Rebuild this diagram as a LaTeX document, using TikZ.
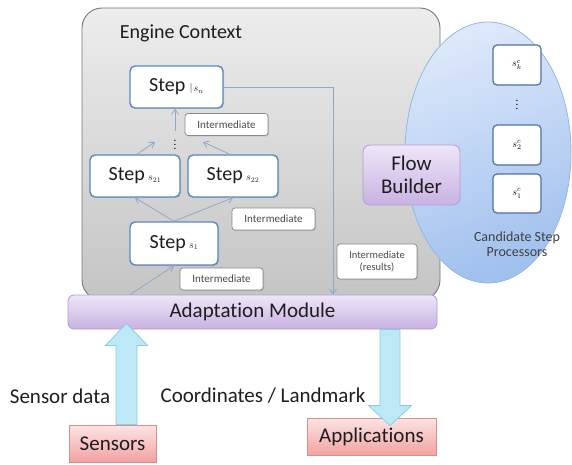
\documentclass[tikz,border=0pt]{standalone}
\usepackage{fontspec}
\setmainfont{Carlito}[Ligatures=NoCommon]
\usetikzlibrary{arrows.meta,positioning,calc,shadows,shapes.geometric}

\definecolor{stepblue}{HTML}{5B86C0}
\definecolor{flowline}{HTML}{8DA8CC}
\definecolor{boxgrey}{HTML}{8A8A8A}
\definecolor{paneledge}{HTML}{767676}
\definecolor{paneltop}{HTML}{EDEDED}
\definecolor{panelbot}{HTML}{C4C4C4}
\definecolor{candtop}{HTML}{DDE8FA}
\definecolor{candbot}{HTML}{A0C0EE}
\definecolor{candedge}{HTML}{96B6E4}
\definecolor{lavtop}{HTML}{EEE6F8}
\definecolor{lavbot}{HTML}{C8B2E2}
\definecolor{lavedge}{HTML}{B39BD4}
\definecolor{pinktop}{HTML}{FDE4E4}
\definecolor{pinkbot}{HTML}{F2A2A2}
\definecolor{pinkedge}{HTML}{DB8C8C}
\definecolor{cyanfill}{HTML}{BDE8F6}
\definecolor{cyanedge}{HTML}{8CCDE4}
\definecolor{ink}{HTML}{1E1E1E}

\newcommand{\sub}[1]{{\fontsize{10}{10}\selectfont$#1$}}

\tikzset{
  stepbox/.style={draw=stepblue,line width=1.4pt,fill=white,rounded corners=5pt,
    minimum width=90pt,minimum height=42pt,font=\fontsize{20}{22}\selectfont,text=ink,
    drop shadow={opacity=0.25,shadow xshift=1pt,shadow yshift=-1pt}},
  interbox/.style={draw=boxgrey,line width=0.7pt,fill=white,rounded corners=3pt,
    minimum width=83pt,minimum height=22pt,font=\fontsize{11}{13}\selectfont,text=ink!80,
    align=center,drop shadow={opacity=0.35,shadow xshift=1pt,shadow yshift=-1pt}},
  candbox/.style={draw=stepblue!85!black,line width=1.2pt,fill=white,rounded corners=4pt,
    minimum width=48pt,minimum height=40pt},
  lavbox/.style={draw=lavedge,line width=0.8pt,top color=lavtop,bottom color=lavbot,
    rounded corners=7pt,font=\fontsize{21}{23}\selectfont,text=ink,align=center},
  pinkbox/.style={draw=pinkedge,line width=0.8pt,top color=pinktop,bottom color=pinkbot,
    minimum height=37pt,font=\fontsize{21}{23}\selectfont,text=ink},
  bigtext/.style={font=\fontsize{21}{23}\selectfont,text=ink},
  flow/.style={-{Straight Barb[length=5pt,width=7pt]},draw=flowline,line width=0.8pt},
  fatarrow/.style={draw=cyanedge,line width=0.8pt,fill=cyanfill},
}

\begin{document}
\begin{tikzpicture}[x=1pt,y=-1pt]
  \useasboundingbox (0,0) rectangle (572,465);

  % engine panel and candidate pool
  \node[draw=paneledge,line width=0.9pt,top color=paneltop,bottom color=panelbot,
    rounded corners=20pt,minimum width=358pt,minimum height=292pt] (engine) at (261,154) {};
  \node[bigtext,font=\fontsize{20}{22}\selectfont] (enginelbl) at (181,33) {Engine Context};
  \node[ellipse,draw=candedge,line width=0.8pt,top color=candtop,bottom color=candbot,
    shading angle=20,minimum width=166pt,minimum height=261pt] (pool) at (488,152.5) {};

  % steps
  \node[stepbox,minimum width=93pt] (stepn) at (176.5,87) {Step\,{\color{gray}\fontsize{11}{11}\selectfont|}\sub{s_n}};
  \node[stepbox] (s21) at (135,176) {Step\,\sub{s_{21}}};
  \node[stepbox] (s22) at (233,176) {Step\,\sub{s_{22}}};
  \node[stepbox,minimum width=88pt,minimum height=43pt] (s1) at (174,243.5) {Step\,\sub{s_1}};
  \node[font=\fontsize{11}{11}\selectfont] (vdots) at (175,142) {$\vdots$};

  \node[interbox] (intn) at (226.5,124.5) {Intermediate};
  \node[interbox] (int2) at (273.5,219) {Intermediate};
  \node[interbox] (int1) at (221.5,279) {Intermediate};
  \node[interbox,minimum width=80pt,minimum height=35pt,font=\fontsize{10.5}{12.5}\selectfont] (intres) at (377,261.5) {Intermediate\\(results)};

  % flow builder and candidate processors
  \node[lavbox,minimum width=97pt,minimum height=60pt] (builder) at (411.5,175) {Flow\\Builder};
  \node[candbox] (ck) at (517,65) {\sub{s^c_k}};
  \node[font=\fontsize{11}{11}\selectfont] (cdots) at (517,102) {$\vdots$};
  \node[candbox] (c2) at (517,145) {\sub{s^c_2}};
  \node[candbox,minimum height=39pt] (c1) at (517,193.5) {\sub{s^c_1}};
  \node[align=center,font=\fontsize{14}{15.5}\selectfont,text=ink!85] (poollbl) at (517,244) {Candidate Step\\Processors};

  % adaptation module and endpoints
  \node[lavbox,rounded corners=6pt,minimum width=369pt,minimum height=34pt] (adapt) at (252.5,312) {Adaptation Module};
  \node[pinkbox,minimum width=87pt] (sensors) at (112.5,443.5) {Sensors};
  \node[pinkbox,minimum width=129pt] (apps) at (371.5,436.5) {Applications};
  \node[bigtext] (sdlbl) at (60,396) {Sensor data};
  \node[bigtext] (colbl) at (263,396) {Coordinates / Landmark};

  % data flow inside the engine
  \coordinate (dl) at ([xshift=-20pt]vdots.center);
  \coordinate (dr) at ([xshift=28pt]vdots.center);
  \draw[flow] ([xshift=-122.5pt]adapt.north) -- (s1.south);
  \draw[flow] (s1.north) -- (s21.south);
  \draw[flow] (s1.north) -- (s22.south);
  \draw[flow] ([xshift=2pt]s21.north) -- (dl);
  \draw[flow] ([xshift=-3pt]s22.north) -- (dr);
  \draw[flow] (vdots.north) -- (vdots.north |- stepn.south);
  \draw[flow] (stepn.east) -| ([xshift=80.5pt]adapt.north);

  % block arrows
  \coordinate (upbase) at ([xshift=14pt]sensors.north);
  \coordinate (uptip) at ([yshift=6pt]upbase |- adapt.south);
  \draw[fatarrow] ($(upbase)+(-10.5,0)$) -- ($(uptip)+(-10.5,22)$) -- ($(uptip)+(-21,22)$)
    -- (uptip) -- ($(uptip)+(21,22)$) -- ($(uptip)+(10.5,22)$) -- ($(upbase)+(10.5,0)$) -- cycle;
  \coordinate (dnbase) at ([xshift=137.5pt]adapt.south);
  \coordinate (dntip) at ([yshift=-8pt]dnbase |- apps.north);
  \draw[fatarrow] ($(dnbase)+(-10,0)$) -- ($(dntip)+(-10,-20)$) -- ($(dntip)+(-21.5,-20)$)
    -- (dntip) -- ($(dntip)+(21.5,-20)$) -- ($(dntip)+(10,-20)$) -- ($(dnbase)+(10,0)$) -- cycle;
\end{tikzpicture}
\end{document}
